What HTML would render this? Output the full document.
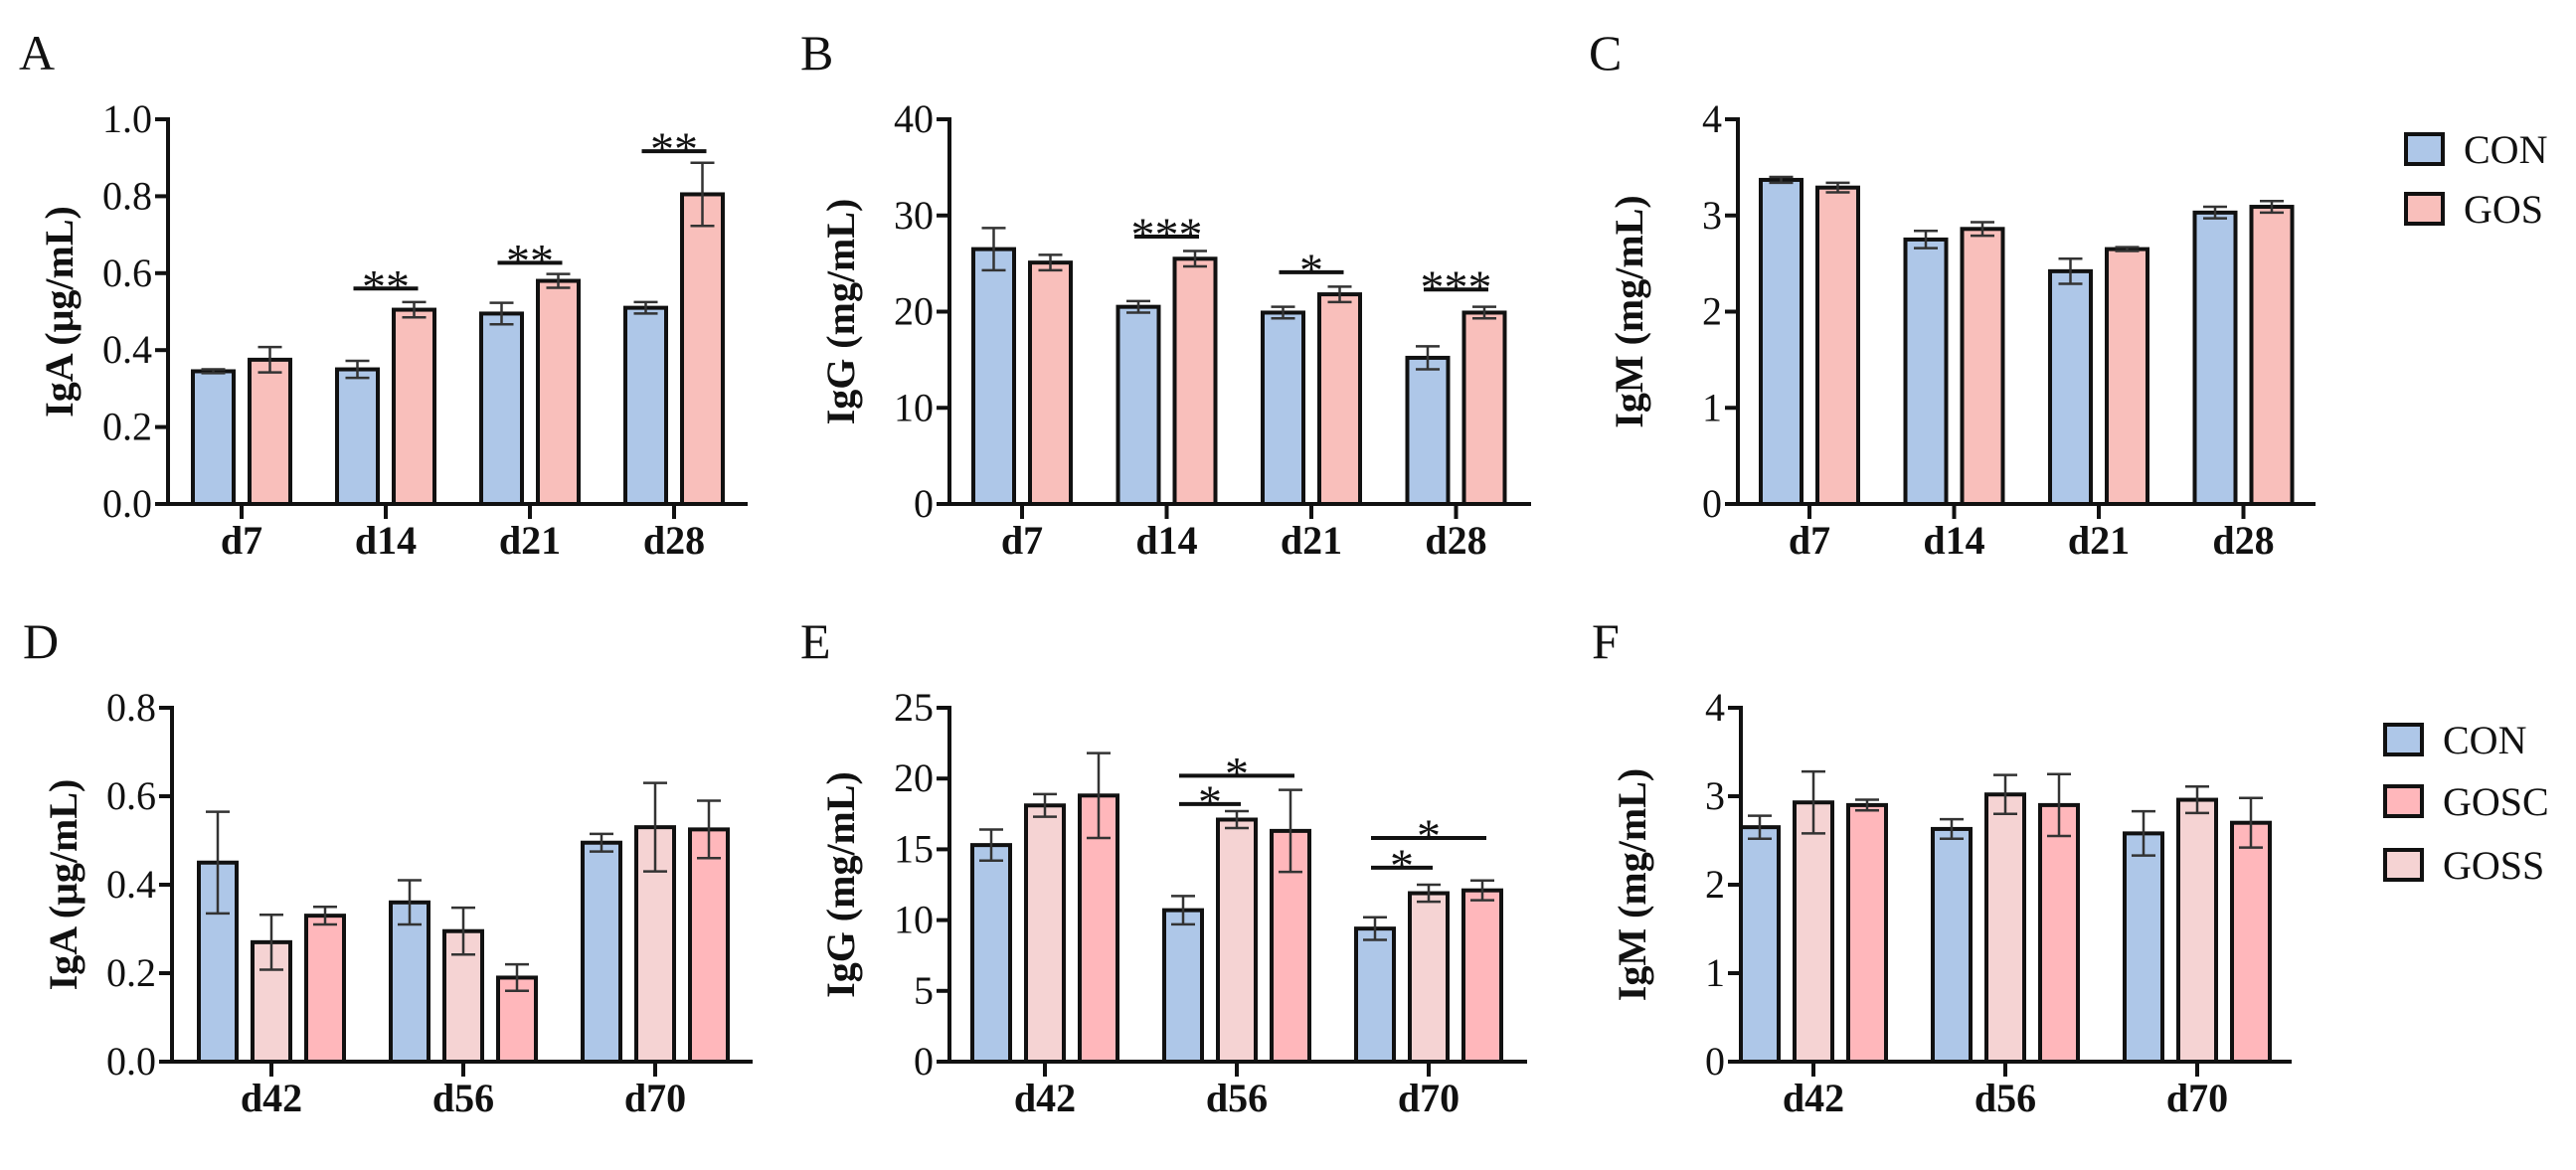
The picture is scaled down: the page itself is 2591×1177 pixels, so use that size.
<!DOCTYPE html>
<html><head><meta charset="utf-8"><style>
html,body{margin:0;padding:0;background:#fff;}
svg{display:block;}
text{font-family:"Liberation Serif",serif;fill:#111;}
</style></head><body>
<svg id="fig" width="2591" height="1177" viewBox="0 0 2591 1177" xmlns="http://www.w3.org/2000/svg"></svg>
<script>
// ---- data ----
const catsTop = ["d7","d14","d21","d28"];
const catsBot = ["d42","d56","d70"];
const aCon = [0.345,0.35,0.495,0.51];
const aConErr = [0.005,0.022,0.028,0.015];
const aGos = [0.375,0.505,0.58,0.805];
const aGosErr = [0.033,0.02,0.018,0.082];
const bCon = [26.5,20.5,19.9,15.2];
const bConErr = [2.2,0.6,0.6,1.2];
const bGos = [25.1,25.5,21.8,19.9];
const bGosErr = [0.8,0.8,0.8,0.6];
const cCon = [3.37,2.75,2.42,3.03];
const cConErr = [0.03,0.09,0.13,0.06];
const cGos = [3.29,2.86,2.65,3.09];
const cGosErr = [0.05,0.07,0.02,0.06];
const dCon = [0.45,0.36,0.495];
const dConErr = [0.115,0.05,0.02];
const dGoss = [0.27,0.295,0.53];
const dGossErr = [0.062,0.053,0.1];
const dGosc = [0.33,0.19,0.525];
const dGoscErr = [0.02,0.03,0.065];
const eCon = [15.3,10.7,9.4];
const eConErr = [1.1,1.0,0.8];
const eGoss = [18.1,17.1,11.9];
const eGossErr = [0.8,0.6,0.6];
const eGosc = [18.8,16.3,12.1];
const eGoscErr = [3.0,2.9,0.7];
const fCon = [2.65,2.63,2.58];
const fConErr = [0.13,0.11,0.25];
const fGoss = [2.93,3.02,2.96];
const fGossErr = [0.35,0.22,0.15];
const fGosc = [2.9,2.9,2.7];
const fGoscErr = [0.06,0.35,0.28];
const aTicks = ["0.0","0.2","0.4","0.6","0.8","1.0"];
const bTicks = ["0","10","20","30","40"];
const cTicks = ["0","1","2","3","4"];
const dTicks = ["0.0","0.2","0.4","0.6","0.8"];
const eTicks = ["0","5","10","15","20","25"];
const fTicks = ["0","1","2","3","4"];
// significance: [category index, fromSeries, toSeries, value, label]
const aSig = [[1,0,1,0.56,"**"],[2,0,1,0.627,"**"],[3,0,1,0.917,"**"]];
const bSig = [[1,0,1,27.8,"***"],[2,0,1,24.1,"*"],[3,0,1,22.3,"***"]];
const eSig = [[1,0,1,18.2,"*"],[1,0,2,20.2,"*"],[2,0,1,13.7,"*"],[2,0,2,15.8,"*"]];

const NS="http://www.w3.org/2000/svg";
const svg=document.getElementById('fig');
function el(tag,attrs,parent){const e=document.createElementNS(NS,tag);for(const k in attrs)e.setAttribute(k,attrs[k]);(parent||svg).appendChild(e);return e;}

const COL_CON="#aec7e8", COL_GOS="#f9bfbb", COL_GOSC="#ffb7bb", COL_GOSS="#f5d3d3";

function panel(cfg){
  const g=el('g',{});
  
  
  const y=v=>cfg.base-(v/cfg.max)*(cfg.base-cfg.top);
  const lt=el('text',{x:cfg.ax-150,y:cfg.top-50,'font-size':50},g);lt.textContent=cfg.letter;
  
  
  cfg.ticks.forEach((t,i)=>{
    const v=i*cfg.max/(cfg.ticks.length-1);
    el('line',{x1:cfg.ax-13,x2:cfg.ax,y1:y(v),y2:y(v),stroke:'#111','stroke-width':4},g);
    const tx=el('text',{x:cfg.ax-16,y:y(v)+13,'font-size':40,'text-anchor':'end'},g);tx.textContent=t;
    
    
  });
  const yt=el('text',{x:0,y:0,'font-size':40,'font-weight':'bold','text-anchor':'middle',transform:`translate(${cfg.ax-96},${(cfg.top+cfg.base)/2}) rotate(-90)`},g);
  yt.textContent=cfg.ytitle;
  
  
  cfg.cats.forEach((c,i)=>{
    const cx=cfg.c0+i*cfg.step;
    cfg.series.forEach((s,j)=>{
      const bx=cx+cfg.offs[j];
      const v=s.vals[i], e=s.errs[i];
      const r=el('rect',{x:bx-cfg.bw/2,y:y(v),width:cfg.bw,height:cfg.base-y(v),fill:s.color,stroke:'#111','stroke-width':4},g);
      
      
      el('line',{x1:bx,x2:bx,y1:y(v+e),y2:y(v-e),stroke:'#333','stroke-width':2.5},g);
      el('line',{x1:bx-12,x2:bx+12,y1:y(v+e),y2:y(v+e),stroke:'#333','stroke-width':2.5},g);
      el('line',{x1:bx-12,x2:bx+12,y1:y(v-e),y2:y(v-e),stroke:'#333','stroke-width':2.5},g);
    });
    el('line',{x1:cx,x2:cx,y1:cfg.base,y2:cfg.base+15,stroke:'#111','stroke-width':4},g);
    const cl=el('text',{x:cx,y:cfg.base+cfg.lab,'font-size':40,'font-weight':'bold','text-anchor':'middle'},g);cl.textContent=c;
    
    
  });
  (cfg.sig||[]).forEach(s=>{
    const cx=cfg.c0+s[0]*cfg.step;
    const x1=cx+cfg.offs[s[1]]-4, x2=cx+cfg.offs[s[2]]+4, yy=y(s[3]);
    const ln=el('line',{x1:x1,x2:x2,y1:yy,y2:yy,stroke:'#111','stroke-width':4},g);
    
    
    const st=el('text',{x:(x1+x2)/2,y:yy+14,'font-size':48,'text-anchor':'middle'},g);st.textContent=s[4];
    
    
  });
  el('line',{x1:cfg.ax,x2:cfg.ax,y1:cfg.top-2,y2:cfg.base+2,stroke:'#111','stroke-width':4},g);
  el('line',{x1:cfg.ax-13,x2:cfg.end,y1:cfg.base,y2:cfg.base,stroke:'#111','stroke-width':4},g);
}
const two=[-28.5,28.5], three=[-54,0,54];
const T1=120,B1=507,T2=712,B2=1068;
panel({letter:'A',ax:169,end:752,top:T1,base:B1,max:1.0,lab:50,ticks:aTicks,ytitle:'IgA (μg/mL)',cats:catsTop,c0:243,step:145,bw:41,offs:two,sig:aSig,
  series:[{name:'con',vals:aCon,errs:aConErr,color:COL_CON},{name:'gos',vals:aGos,errs:aGosErr,color:COL_GOS}]});
panel({letter:'B',ax:955,end:1540,top:T1,base:B1,max:40,lab:50,ticks:bTicks,ytitle:'IgG (mg/mL)',cats:catsTop,c0:1028,step:145.5,bw:41,offs:two,sig:bSig,
  series:[{name:'con',vals:bCon,errs:bConErr,color:COL_CON},{name:'gos',vals:bGos,errs:bGosErr,color:COL_GOS}]});
panel({letter:'C',ax:1748,end:2329,top:T1,base:B1,max:4,lab:50,ticks:cTicks,ytitle:'IgM (mg/mL)',cats:catsTop,c0:1820,step:145.5,bw:41,offs:two,
  series:[{name:'con',vals:cCon,errs:cConErr,color:COL_CON},{name:'gos',vals:cGos,errs:cGosErr,color:COL_GOS}]});
panel({letter:'D',ax:173,end:757,top:T2,base:B2,max:0.8,lab:50,ticks:dTicks,ytitle:'IgA (μg/mL)',cats:catsBot,c0:273,step:193,bw:38,offs:three,
  series:[{name:'con',vals:dCon,errs:dConErr,color:COL_CON},{name:'goss',vals:dGoss,errs:dGossErr,color:COL_GOSS},{name:'gosc',vals:dGosc,errs:dGoscErr,color:COL_GOSC}]});
panel({letter:'E',ax:955,end:1536,top:T2,base:B2,max:25,lab:50,ticks:eTicks,ytitle:'IgG (mg/mL)',cats:catsBot,c0:1051,step:193,bw:38,offs:three,sig:eSig,
  series:[{name:'con',vals:eCon,errs:eConErr,color:COL_CON},{name:'goss',vals:eGoss,errs:eGossErr,color:COL_GOSS},{name:'gosc',vals:eGosc,errs:eGoscErr,color:COL_GOSC}]});
panel({letter:'F',ax:1751,end:2305,top:T2,base:B2,max:4,lab:50,ticks:fTicks,ytitle:'IgM (mg/mL)',cats:catsBot,c0:1824,step:193,bw:38,offs:three,
  series:[{name:'con',vals:fCon,errs:fConErr,color:COL_CON},{name:'goss',vals:fGoss,errs:fGossErr,color:COL_GOSS},{name:'gosc',vals:fGosc,errs:fGoscErr,color:COL_GOSC}]});

function legend(x,ys,items){
  items.forEach((it,i)=>{
    const r=el('rect',{x:x,y:ys[i]-15,width:37,height:30,fill:it[1],stroke:'#111','stroke-width':4});
    
    
    const t=el('text',{x:x+58,y:ys[i]+14,'font-size':40});t.textContent=it[0];
    
    
  });
}
legend(2420,[150,210],[["CON",COL_CON],["GOS",COL_GOS]]);
legend(2399,[744,806,870],[["CON",COL_CON],["GOSC",COL_GOSC],["GOSS",COL_GOSS]]);
</script>
</body></html>
